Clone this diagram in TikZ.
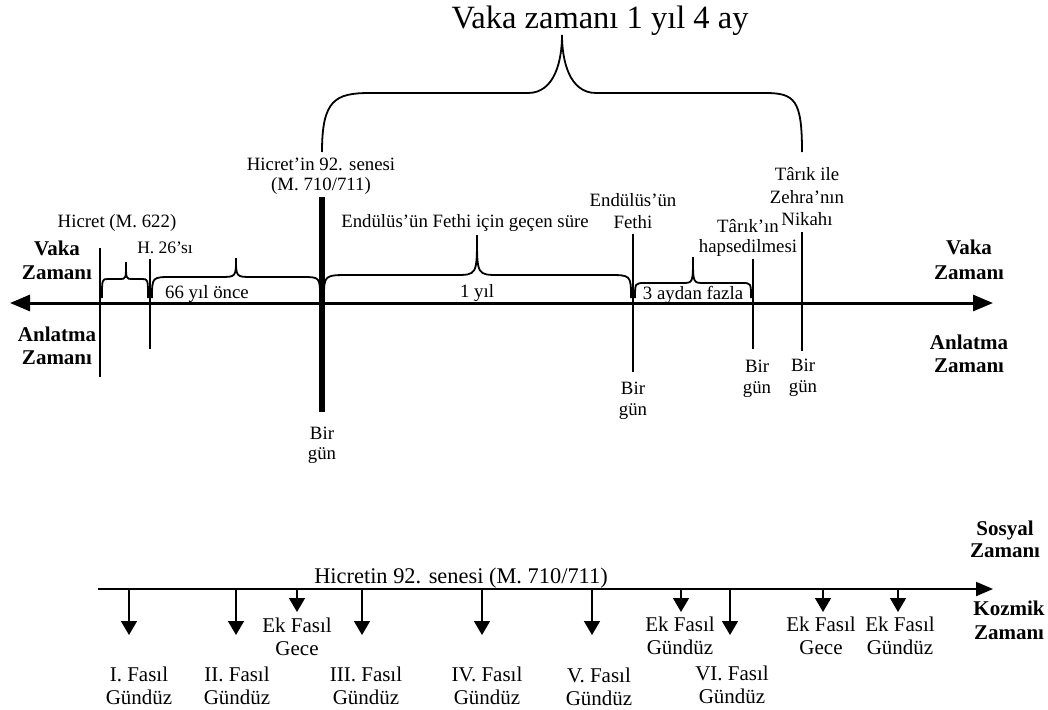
\documentclass[tikz,border=0pt]{standalone}
\usepackage{fontspec}
\setmainfont{Liberation Serif}
\usetikzlibrary{arrows.meta}
\begin{document}
\begin{tikzpicture}[x=1pt,y=-1pt,
  lbl/.style={font=\fontsize{18.8}{21}\selectfont, align=center, inner sep=0pt},
  small/.style={font=\fontsize{17.5}{19}\selectfont, align=center, inner sep=0pt},
  bold/.style={font=\fontsize{21}{23}\selectfont\bfseries, align=center, inner sep=0pt},
  chap/.style={font=\fontsize{21}{23}\selectfont, align=center, inner sep=0pt},
  title/.style={font=\fontsize{32.5}{36}\selectfont, inner sep=0pt},
  subtitle/.style={font=\fontsize{22.4}{26}\selectfont, inner sep=0pt},
  axis/.style={line width=3pt, {Triangle[length=20pt,width=16pt]}-{Triangle[length=20pt,width=16pt]}},
  tick/.style={line width=2pt},
  bigtick/.style={line width=6pt},
  brace/.style={line width=1.8pt},
  axis2/.style={line width=2pt, -{Triangle[length=17pt,width=14pt]}},
  fall/.style={line width=1.6pt, -{Triangle[length=14pt,width=16pt]}}
]
\useasboundingbox (0,0) rectangle (1048,709);

% ---------- main time axis ----------
\coordinate (axL) at (10,303);
\coordinate (axR) at (993,303);
\draw[axis] (axL) -- (axR);

% event ticks
\coordinate (h1t) at (100,248);  \coordinate (h1b) at (100,377);
\coordinate (h2t) at (150,259);  \coordinate (h2b) at (150,349);
\coordinate (h3t) at (322,197);  \coordinate (h3b) at (322,412);
\coordinate (h4t) at (633,234);  \coordinate (h4b) at (633,372);
\coordinate (h5t) at (753,259);  \coordinate (h5b) at (753,349);
\coordinate (h6t) at (802,232);  \coordinate (h6b) at (802,351);
\draw[tick] (h1t) -- (h1b);
\draw[tick] (h2t) -- (h2b);
\draw[bigtick] (h3t) -- (h3b);
\draw[tick] (h4t) -- (h4b);
\draw[tick] (h5t) -- (h5b);
\draw[tick] (h6t) -- (h6b);

% interval braces above the axis
\draw[brace] (102,298) .. controls (102,279) .. (108,279) -- (120,279)
  .. controls (126,279) .. (126,262) .. controls (126,279) .. (132,279)
  -- (142,279) .. controls (148,279) .. (148,298);
\draw[brace] (152,298) .. controls (152,277) .. (172,277) -- (220,277)
  .. controls (236,277) .. (236,258) .. controls (236,277) .. (252,277)
  -- (302,277) .. controls (320,277) .. (320,298);
\draw[brace] (324,298) .. controls (324,275) .. (350,275) -- (455,275)
  .. controls (477,275) .. (477,235) .. controls (477,275) .. (499,275)
  -- (608,275) .. controls (631,275) .. (631,298);
\draw[brace] (635,298) .. controls (635,283) .. (645,283) -- (682,283)
  .. controls (693,283) .. (693,257) .. controls (693,283) .. (704,283)
  -- (742,283) .. controls (751,283) .. (751,298);

% overall brace
\draw[brace] (322,152) .. controls (322,100) and (335,93) .. (370,93) -- (528,93)
  .. controls (555,93) and (562,60) .. (562,35)
  .. controls (562,60) and (569,93) .. (596,93) -- (765,93)
  .. controls (795,93) and (802,100) .. (802,152);

% ---------- labels of the main axis ----------
\node[title] (vz) at (600,21) {Vaka zamanı 1 yıl 4 ay};
\node[lbl] (hic) at (117,223) {Hicret (M. 622)};
\node[small] (h26) at (165,248) {H. 26’sı};
\node[lbl, font=\fontsize{18.8}{20}\selectfont] (h92) at (321,176) {Hicret’in 92. senesi\\(M. 710/711)};
\node[lbl] (ef) at (465,223) {Endülüs’ün Fethi için geçen süre};
\node[lbl, font=\fontsize{18.8}{22}\selectfont] (endf) at (633,211) {Endülüs’ün\\Fethi};
\node[lbl, font=\fontsize{18.8}{20}\selectfont] (hap) at (748,238) {Târık’ın\\hapsedilmesi};
\node[lbl, font=\fontsize{18.8}{22.5}\selectfont] (nik) at (807,197) {Târık ile\\Zehra’nın\\Nikahı};

\node[lbl] (d66) at (207,294) {66 yıl önce};
\node[lbl] (d1y) at (477,293) {1 yıl};
\node[lbl] (d3a) at (693,295) {3 aydan fazla};

\node[bold, font=\fontsize{21}{24}\selectfont\bfseries] (vzL) at (57,260) {Vaka\\Zamanı};
\node[bold] (azL) at (57,346) {Anlatma\\Zamanı};
\node[bold, font=\fontsize{21}{25}\selectfont\bfseries] (vzR) at (969,259.5) {Vaka\\Zamanı};
\node[bold] (azR) at (969,354) {Anlatma\\Zamanı};

\node[lbl, font=\fontsize{18.8}{20}\selectfont] (bg3) at (322,445) {Bir\\gün};
\node[lbl] (bg4) at (633,401) {Bir\\gün};
\node[lbl] (bg5) at (757,379) {Bir\\gün};
\node[lbl] (bg6) at (803,378) {Bir\\gün};

% ---------- lower axis: social and cosmic time ----------
\node[subtitle] (hs) at (461,578) {Hicretin 92. senesi (M. 710/711)};
\coordinate (bL) at (98,589);
\coordinate (bR) at (993,589);
\draw[axis2] (bL) -- (bR);

\node[bold, font=\fontsize{21}{22}\selectfont\bfseries] (soc) at (1005,539) {Sosyal\\Zamanı};
\node[bold, font=\fontsize{21}{24}\selectfont\bfseries] (koz) at (1009,620) {Kozmik\\Zamanı};

% chapters
\foreach \n/\x/\y in {a/129/635, b/236/635, c/297/612, d/362/635, e/482/635,
                      f/592/635, g/681/612, h/730/635, i/823/612, j/898/612}{
  \coordinate (s\n) at (\x,589);
  \coordinate (e\n) at (\x,\y);
  \draw[fall] (s\n) -- (e\n);
}

\node[chap] (fa) at (139,686) {I. Fasıl\\Gündüz};
\node[chap] (fb) at (237,686) {II. Fasıl\\Gündüz};
\node[chap] (fc) at (297,637) {Ek Fasıl\\Gece};
\node[chap] (fd) at (366,686) {III. Fasıl\\Gündüz};
\node[chap] (fe) at (487,686) {IV. Fasıl\\Gündüz};
\node[chap] (ff) at (599,687) {V. Fasıl\\Gündüz};
\node[chap] (fg) at (680,636) {Ek Fasıl\\Gündüz};
\node[chap] (fh) at (732,685) {VI. Fasıl\\Gündüz};
\node[chap] (fi) at (821,636) {Ek Fasıl\\Gece};
\node[chap] (fj) at (900,636) {Ek Fasıl\\Gündüz};
\end{tikzpicture}
\end{document}
